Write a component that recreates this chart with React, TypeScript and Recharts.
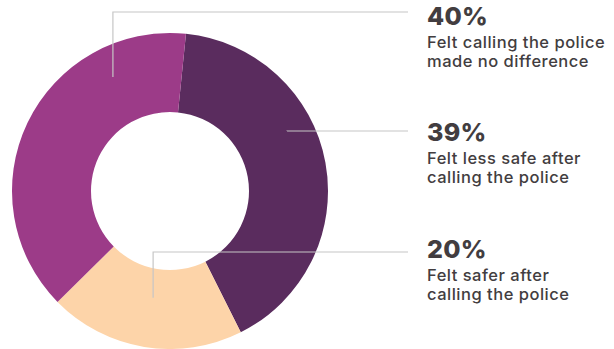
import { Cell, Pie, PieChart } from 'recharts';

// Slice sizes as drawn (clockwise from just right of the top)
const categories = ['Felt less safe', 'Felt safer', 'No difference'];
const shares = [41, 20, 39];
const percentLabels = ['39%', '20%', '40%'];
const captions = [
  ['Felt less safe after', 'calling the police'],
  ['Felt safer after', 'calling the police'],
  ['Felt calling the police', 'made no difference'],
];

const COLORS = ['#5a2c5e', '#fdd4a9', '#9c3b88'];
const TEXT = '#423d40';
const LINE = '#c6c6c6';

// Leader line anchors: clockwise angle from top, radius, elbow y, label baseline
const anchors = [
  { angle: 62.9, r: 131.5, elbowY: 131, baseY: 141 },
  { angle: 189, r: 108, elbowY: 252, baseY: 258 },
  { angle: 333.4, r: 127.5, elbowY: 12, baseY: 25 },
];
const LINE_END = 408;
const TEXT_X = 427;

const data = categories.map((name, i) => ({ name, value: shares[i] }));

function renderLabel(props: any) {
  const { cx, cy, index } = props;
  const a = anchors[index];
  const rad = (a.angle * Math.PI) / 180;
  const x0 = cx + a.r * Math.sin(rad);
  const y0 = cy - a.r * Math.cos(rad);
  const pts = `${x0},${y0} ${x0},${a.elbowY} ${LINE_END},${a.elbowY}`;
  return (
    <g key={`label-${index}`}>
      <polyline points={pts} fill="none" stroke={LINE} strokeWidth={1.2} />
      <text
        x={TEXT_X}
        y={a.baseY}
        fill={TEXT}
        fontFamily="Inter"
        fontWeight={800}
        fontSize={25}
        letterSpacing={0.3}
      >
        {percentLabels[index]}
      </text>
      {captions[index].map((line, j) => (
        <text
          key={j}
          x={TEXT_X}
          y={a.baseY + 23 + j * 19}
          fill={TEXT}
          fontFamily="Inter"
          fontWeight={500}
          fontSize={16.5}
          letterSpacing={0.5}
        >
          {line}
        </text>
      ))}
    </g>
  );
}

export default function App() {
  return (
    <div style={{ width: 614, height: 349 }}>
      <style>{'body{margin:0}'}</style>
      <PieChart
        width={614}
        height={349}
        margin={{ top: 0, right: 0, bottom: 0, left: 0 }}
      >
        <Pie
          data={data}
          dataKey="value"
          cx={170}
          cy={191}
          innerRadius={79}
          outerRadius={158}
          startAngle={84.2}
          endAngle={-275.8}
          stroke="none"
          label={renderLabel}
          labelLine={false}
          isAnimationActive={false}
        >
          {data.map((_, i) => (
            <Cell key={i} fill={COLORS[i]} />
          ))}
        </Pie>
      </PieChart>
    </div>
  );
}
